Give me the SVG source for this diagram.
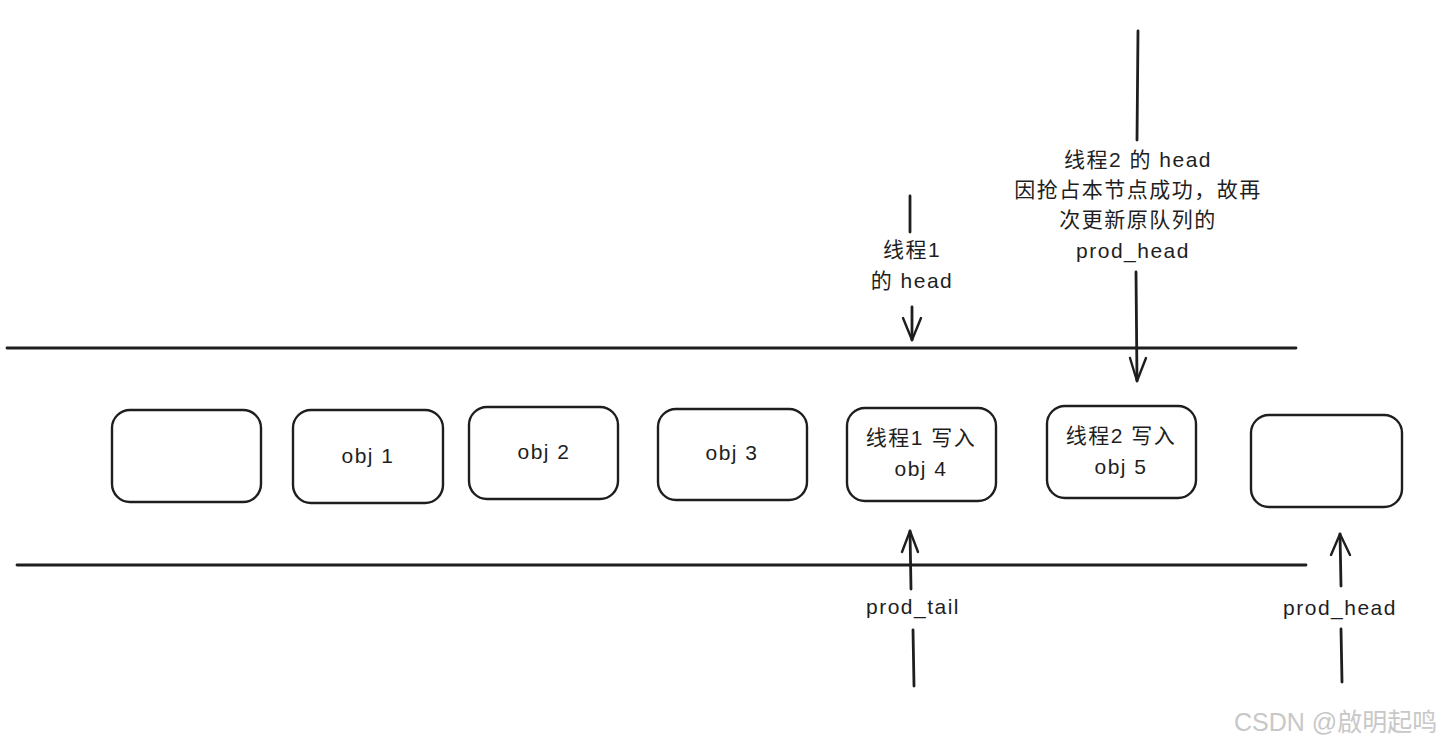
<svg xmlns="http://www.w3.org/2000/svg" width="1449" height="750" viewBox="0 0 1449 750">
<style>
.box{fill:#fff;stroke:#1e1e1e;stroke-width:2.4}
.ln{stroke:#1e1e1e;stroke-width:2.8;fill:none;stroke-linecap:round}
.ah{stroke:#1e1e1e;stroke-width:2.4;fill:none;stroke-linecap:round;stroke-linejoin:round}
.t{font-family:"Liberation Sans","Noto Sans CJK SC",sans-serif;font-size:21px;letter-spacing:1.5px;fill:#1e1e1e;text-anchor:middle}
.wm{font-family:"Liberation Sans","Noto Sans CJK SC",sans-serif;font-size:25px;fill:#c8c8c8}
</style>
<rect width="1449" height="750" fill="#fff"/>
<g id="rails">
<line class="ln" x1="7" y1="348" x2="1296" y2="348"/>
<line class="ln" x1="17" y1="565" x2="1306" y2="565"/>
</g>
<g id="node0"><rect class="box" x="112" y="410" width="149" height="92" rx="18"/></g>
<g id="node1"><rect class="box" x="293" y="410" width="150" height="93" rx="18"/><text class="t" x="368" y="463">obj 1</text></g>
<g id="node2"><rect class="box" x="469" y="407" width="149" height="92" rx="18"/><text class="t" x="544" y="459">obj 2</text></g>
<g id="node3"><rect class="box" x="658" y="409" width="149" height="91" rx="18"/><text class="t" x="732" y="460">obj 3</text></g>
<g id="node4"><rect class="box" x="847" y="408" width="149" height="93" rx="18"/><text class="t" x="921" y="445">线程1 写入</text><text class="t" x="921" y="476">obj 4</text></g>
<g id="node5"><rect class="box" x="1047" y="406" width="149" height="92" rx="18"/><text class="t" x="1121" y="443">线程2 写入</text><text class="t" x="1121" y="474">obj 5</text></g>
<g id="node6"><rect class="box" x="1251" y="415" width="151" height="92" rx="18"/></g>
<g id="connectors">
<line class="ln" x1="910" y1="196" x2="910" y2="232"/>
<line class="ln" x1="912" y1="307" x2="912" y2="340"/>
<path class="ah" d="M903 318 L912 340 L921 318"/>
<line class="ln" x1="1138" y1="31" x2="1137" y2="140"/>
<line class="ln" x1="1136" y1="272" x2="1137" y2="381"/>
<path class="ah" d="M1130 358 L1137 381 L1146 358"/>
<line class="ln" x1="911" y1="589" x2="910" y2="531"/>
<path class="ah" d="M902 552 L910 531 L918 552"/>
<line class="ln" x1="913" y1="630" x2="914" y2="686"/>
<line class="ln" x1="1341" y1="586" x2="1340" y2="534"/>
<path class="ah" d="M1331 555 L1340 534 L1350 555"/>
<line class="ln" x1="1341" y1="629" x2="1342" y2="682"/>
</g>
<g id="labels">
<text class="t" x="912" y="257">线程1</text>
<text class="t" x="912" y="288">的 head</text>
<text class="t" x="1138" y="167">线程2 的 head</text>
<text class="t" x="1138" y="197">因抢占本节点成功，故再</text>
<text class="t" x="1138" y="227">次更新原队列的</text>
<text class="t" x="1133" y="258">prod_head</text>
<text class="t" x="913" y="614">prod_tail</text>
<text class="t" x="1340" y="615">prod_head</text>
</g>
<text class="wm" x="1234" y="731">CSDN @啟明起鸣</text>
</svg>
